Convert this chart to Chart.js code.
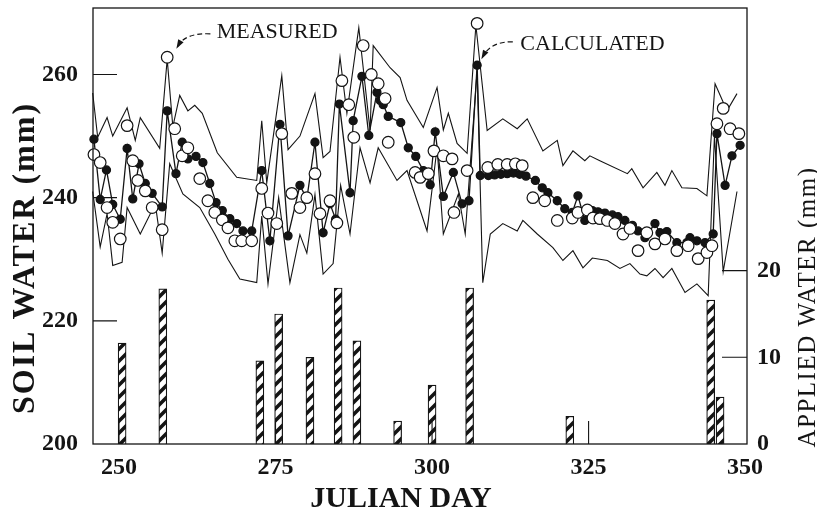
<!DOCTYPE html>
<html>
<head>
<meta charset="utf-8">
<script src="https://cdn.jsdelivr.net/npm/chart.js@4"></script>
<style>
  html, body { margin: 0; background: #fff; }
  canvas { display: block; }
</style>
</head>
<body>
<canvas id="soil" width="817" height="513"></canvas>
<script>
// --- data (Julian day, mm) ---
const calcDays = [
  246, 247, 248, 249, 250.2, 251.3, 252.2, 253.2, 254.2, 255.3,
  256.9, 257.7, 259.1, 260.1, 261, 262.3, 263.4, 264.5, 265.5, 266.5,
  267.7, 268.8, 269.8, 271.2, 272.8, 274.1, 275.7, 277, 278.9, 280,
  281.3, 282.6, 283.7, 284.6, 285.2, 286.9, 287.4, 288.8, 289.9, 291.2,
  291.7, 292.2, 293, 295, 296.2, 297.4, 298.6, 299.7, 300.5, 301.8,
  303.4, 304.8, 305.9, 307.2, 307.7, 309, 310, 311, 312, 313,
  314, 315, 316.5, 317.6, 318.5, 320, 321.2, 322.4, 323.3, 324.4,
  325.6, 326.5, 327.6, 328.8, 329.7, 330.8, 332, 332.9, 334, 335.6,
  336.4, 337.5, 339.1, 340.7, 341.2, 342.3, 343.6, 344.9, 345.5, 346.8,
  347.9, 349.2
];
const calcVals = [
  249.5, 239.7, 244.5, 238.9, 236.5, 248, 239.8, 245.5, 242.3, 240.7,
  238.5, 254.1, 243.9, 249, 246.3, 246.7, 245.7, 242.3, 239.2, 237.9,
  236.6, 235.8, 234.6, 234.6, 244.4, 233, 251.9, 233.8, 242, 239.8,
  249, 234.3, 239, 236.5, 255.2, 240.8, 252.5, 259.7, 250.1, 257.1,
  255.8, 255.1, 253.2, 252.2, 248.1, 246.7, 244.4, 242.1, 250.7, 240.2,
  244.1, 239, 239.5, 261.5, 243.6, 243.6, 243.7, 243.8, 243.9, 244,
  243.8, 243.5, 242.8, 241.6, 240.8, 239.5, 238.2, 237.6, 240.3, 236.3,
  237.9, 237.7, 237.5, 237.2, 236.9, 236.3, 235.5, 234.6, 233.5, 235.8,
  234.3, 234.5, 232.7, 232.7, 233.5, 233, 232.7, 234.1, 250.4, 242,
  246.8, 248.5
];

const measDays = [
  246, 247, 248.1, 249, 250.2, 251.3, 252.2, 253, 254.2, 255.3,
  256.9, 257.7, 258.9, 260.1, 261, 262.9, 264.2, 265.3, 266.5, 267.4,
  268.5, 269.6, 271.2, 272.8, 273.8, 275.2, 276, 277.6, 278.9, 280,
  281.3, 282.1, 283.7, 284.8, 285.6, 286.7, 287.5, 289, 290.3, 291.4,
  292.5, 293, 297.3, 298.1, 299.4, 300.3, 301.8, 303.2, 303.5, 305.6,
  307.2, 308.9, 310.5, 312, 313.3, 314.4, 316.1, 318, 320, 322.4,
  323.3, 324.8, 325.7, 326.8, 328, 329.2, 330.5, 331.6, 332.9, 334.3,
  335.6, 337.2, 339.1, 340.9, 342.5, 343.9, 344.7, 345.5, 346.5, 347.6,
  349
];
const measVals = [
  247, 245.7, 238.4, 236, 233.3, 251.7, 246, 242.8, 241.1, 238.4,
  234.8, 262.8, 251.2, 246.8, 248.1, 243.1, 239.5, 237.6, 236.4, 235.1,
  233, 233, 233, 241.5, 237.5, 235.8, 250.4, 240.7, 238.4, 240,
  243.9, 237.4, 239.5, 235.9, 259, 255.1, 249.8, 264.7, 260, 258.5,
  256.1, 249, 244.1, 243.3, 243.9, 247.6, 246.8, 246.3, 237.6, 244.4,
  268.3, 244.9, 245.4, 245.4, 245.5, 245.2, 240, 239.5, 236.3, 236.7,
  237.6, 238, 236.7, 236.6, 236.3, 235.8, 234.1, 235, 231.4, 234.3,
  232.5, 233.3, 231.4, 232.2, 230.1, 231.1, 232.2, 252, 254.5, 251.2,
  250.4
];

const upperDays = [
  245.8, 246.6, 248.1, 249, 251.3, 252.6, 253.4, 256.5, 257.7, 258.6,
  259.7, 261, 262.1, 263.3, 265.7, 268.8, 272, 272.8, 273.6, 276,
  277, 278.9, 281.3, 282.6, 283.7, 285.3, 286.4, 288.3, 290.1, 290.6,
  293.3, 294.9, 296, 298.6, 300.8, 301.8, 302.6, 304, 305.6, 307,
  308.8, 311.3, 313.6, 315.2, 317.7, 320, 320.9, 322.5, 324.4, 325.2,
  326.8, 331.2, 331.9, 333.7, 335.9, 337.2, 338.3, 339.9, 342.3, 343.9,
  345.2, 347.1, 348.7
];
const upperVals = [
  257, 249.8, 253, 250, 254.6, 249.3, 253, 248, 262.5, 251.5,
  256.6, 254.1, 255, 253.7, 247.3, 243.3, 242.8, 252.5, 242.4, 259.8,
  247.8, 250, 256.9, 246.5, 247.5, 262.8, 253.7, 267.6, 250.9, 264.7,
  261.1, 259.5, 255.8, 251.4, 257.9, 251, 253.7, 248.8, 247.2, 268,
  250.9, 252.8, 251.2, 252.8, 247.6, 249.3, 245.2, 247.6, 246, 246.8,
  246, 243.9, 244.7, 241.6, 244.1, 242, 244.4, 241.6, 241.5, 240.3,
  258.5, 254.1, 256.9
];

const lowerDays = [
  245.8, 247, 248.1, 249, 250.5, 251.3, 253.4, 255.8, 256.9, 258.1,
  260.2, 262.9, 265.3, 267.4, 269.3, 272, 272.8, 273.8, 275.5, 277.3,
  278.9, 280, 281.3, 282.6, 284.2, 285.4, 286.9, 288.5, 290.1, 291.4,
  294.4, 296, 299.2, 300.8, 301.8, 304.2, 305.3, 307.2, 308.1, 309.3,
  311.3, 313.6, 314.5, 316.8, 319.3, 320.9, 322.5, 324.1, 325.6, 328,
  330, 331.6, 333.2, 334.3, 335.6, 336.9, 338.3, 340.4, 342.3, 344.1,
  345.1, 346.5, 348.7
];
const lowerVals = [
  241, 232, 237.4, 229, 229.5, 238.4, 234.1, 239, 231, 245.5,
  240.6, 238.4, 234.1, 230, 226.8, 226.2, 237, 226, 240, 226.2,
  234, 231, 240.5, 227.6, 229.3, 242, 234.1, 248.1, 242.4, 248.1,
  242.8, 244.4, 234.6, 248.1, 234.1, 240.6, 234.1, 260.7, 226.2, 234.1,
  235.8, 234.6, 236.3, 234.1, 231.9, 229.8, 231.4, 228.6, 230.2, 229.8,
  228.5, 229.3, 227.6, 227.3, 228.5, 227, 228.5, 224.6, 226, 224.1,
  250, 228, 241
];

const irrigDays = [250.5, 257, 272.5, 275.5, 280.5, 285, 288, 294.5, 300, 306, 322, 344.5, 346];
const irrigMm   = [11.65, 17.9, 9.6, 15, 10, 18, 11.9, 2.65, 6.8, 18, 3.2, 16.6, 5.4];

const soilTicks = [200, 220, 240, 260];
const appliedTicks = [0, 10, 20];
const dayTicks = [250, 275, 300, 325, 350];

const ink = '#141414';
const serif = '"Liberation Serif", "DejaVu Serif", serif';

function pts(days, vals) { return days.map((d, i) => ({ x: d, y: vals[i] })); }

// diagonal hatch for the applied-water bars
function hatch() {
  const c = document.createElement('canvas');
  c.width = 12; c.height = 12;
  const g = c.getContext('2d');
  g.fillStyle = '#fff';
  g.fillRect(0, 0, 12, 12);
  g.strokeStyle = ink;
  g.lineWidth = 3.6;
  g.beginPath();
  g.moveTo(-2, 14); g.lineTo(14, -2);
  g.moveTo(-4, 4); g.lineTo(4, -4);
  g.moveTo(8, 16); g.lineTo(16, 8);
  g.stroke();
  return g.createPattern(c, 'repeat');
}

function arrow(ctx, x0, y0, cx, cy, x1, y1) {
  ctx.beginPath();
  ctx.setLineDash([5, 3]);
  ctx.moveTo(x0, y0);
  ctx.quadraticCurveTo(cx, cy, x1, y1);
  ctx.stroke();
  ctx.setLineDash([]);
  const ang = Math.atan2(y1 - cy, x1 - cx);
  ctx.beginPath();
  ctx.moveTo(x1 + 3 * Math.cos(ang), y1 + 3 * Math.sin(ang));
  ctx.lineTo(x1 - 7 * Math.cos(ang - 0.45), y1 - 7 * Math.sin(ang - 0.45));
  ctx.lineTo(x1 - 7 * Math.cos(ang + 0.45), y1 - 7 * Math.sin(ang + 0.45));
  ctx.closePath();
  ctx.fill();
}

/* frame, inward ticks, axis titles and the two callouts */
const decor = {
  id: 'decor',
  afterDraw(chart) {
    const { ctx, chartArea: a } = chart;
    const { x, y, y2 } = chart.scales;
    ctx.save();
    ctx.strokeStyle = ink;
    ctx.fillStyle = ink;
    ctx.lineWidth = 1.3;
    ctx.strokeRect(a.left, a.top, a.right - a.left, a.bottom - a.top);

    ctx.beginPath();
    soilTicks.slice(1).forEach(v => {
      const p = y.getPixelForValue(v);
      ctx.moveTo(a.left, p); ctx.lineTo(a.left + 24, p);
    });
    appliedTicks.slice(1).forEach(v => {
      const p = y2.getPixelForValue(v);
      ctx.moveTo(a.right, p); ctx.lineTo(a.right - 25, p);
    });
    dayTicks.slice(0, -1).forEach(v => {
      const p = x.getPixelForValue(v);
      ctx.moveTo(p, a.bottom); ctx.lineTo(p, a.bottom - 23);
    });
    ctx.lineWidth = 1.1;
    ctx.stroke();

    // axis titles
    ctx.textBaseline = 'alphabetic';
    ctx.textAlign = 'center';
    ctx.font = 'bold 30px ' + serif;
    ctx.fillText('JULIAN DAY', 401, 507);

    ctx.save();
    ctx.translate(34, 258);
    ctx.rotate(-Math.PI / 2);
    ctx.font = 'bold 32px ' + serif;
    ctx.letterSpacing = '2px';
    ctx.fillText('SOIL WATER (mm)', 0, 0);
    ctx.restore();

    ctx.save();
    ctx.translate(815, 307);
    ctx.rotate(-Math.PI / 2);
    ctx.font = '25px ' + serif;
    ctx.letterSpacing = '1.5px';
    ctx.fillText('APPLIED WATER (mm)', 0, 0);
    ctx.restore();

    // callouts
    ctx.font = '22px ' + serif;
    ctx.textAlign = 'left';
    ctx.fillText('MEASURED', x.getPixelForValue(265.6), y.getPixelForValue(265.9));
    ctx.fillText('CALCULATED', x.getPixelForValue(314.1), y.getPixelForValue(264));
    ctx.lineWidth = 1.2;
    arrow(ctx,
      x.getPixelForValue(264.6), y.getPixelForValue(266.6),
      x.getPixelForValue(260.6), y.getPixelForValue(266.8),
      x.getPixelForValue(259.4), y.getPixelForValue(264.6));
    arrow(ctx,
      x.getPixelForValue(312.9), y.getPixelForValue(265.3),
      x.getPixelForValue(309.4), y.getPixelForValue(265.4),
      x.getPixelForValue(308.1), y.getPixelForValue(262.9));
    ctx.restore();
  }
};

const tickFont = { family: serif, size: 24, weight: 'bold' };
const noPad = s => { s.paddingTop = 0; s.paddingBottom = 0; s.paddingLeft = 0; s.paddingRight = 0; };

new Chart(document.getElementById('soil'), {
  data: {
    datasets: [
      {
        type: 'scatter', label: 'Measured', data: pts(measDays, measVals),
        pointRadius: 5.8, pointBackgroundColor: '#fff', pointBorderColor: ink,
        pointBorderWidth: 1.2, showLine: false, clip: 8
      },
      {
        type: 'line', label: 'Calculated', data: pts(calcDays, calcVals),
        borderColor: ink, borderWidth: 1.3, tension: 0,
        pointRadius: 4, pointBackgroundColor: ink, pointBorderColor: ink, clip: 8
      },
      {
        type: 'line', label: 'Upper', data: pts(upperDays, upperVals),
        borderColor: ink, borderWidth: 1.1, pointRadius: 0, tension: 0, clip: 2
      },
      {
        type: 'line', label: 'Lower', data: pts(lowerDays, lowerVals),
        borderColor: ink, borderWidth: 1.1, pointRadius: 0, tension: 0, clip: 2
      },
      {
        type: 'bar', label: 'Applied water', data: pts(irrigDays, irrigMm),
        yAxisID: 'y2', backgroundColor: hatch(), borderColor: ink, borderWidth: 1.2,
        barThickness: 8, grouped: false
      }
    ]
  },
  options: {
    responsive: false,
    animation: false,
    events: [],
    layout: { padding: { top: 8, left: 0, right: 0, bottom: 0 } },
    plugins: { legend: { display: false }, tooltip: { enabled: false } },
    scales: {
      x: {
        type: 'linear', min: 245.85, max: 350.3, offset: false,
        grid: { display: false, drawTicks: false, offset: false }, border: { display: false },
        ticks: { stepSize: 25, includeBounds: false, padding: 9, color: ink, font: tickFont },
        afterFit: s => { s.height = 69; noPad(s); }
      },
      y: {
        type: 'linear', position: 'left', min: 200, max: 270.8,
        grid: { display: false, drawTicks: false }, border: { display: false },
        ticks: { stepSize: 20, includeBounds: false, padding: 15, color: ink, font: tickFont },
        afterFit: s => { s.width = 93; noPad(s); }
      },
      y2: {
        type: 'linear', position: 'right', min: 0, max: 50.3,
        grid: { display: false, drawTicks: false }, border: { display: false },
        ticks: { stepSize: 10, includeBounds: false, padding: 10, color: ink, font: tickFont },
        afterBuildTicks: s => { s.ticks = s.ticks.filter(t => appliedTicks.includes(t.value)); },
        afterFit: s => { s.width = 70; noPad(s); }
      }
    }
  },
  plugins: [decor]
});
</script>
</body>
</html>
